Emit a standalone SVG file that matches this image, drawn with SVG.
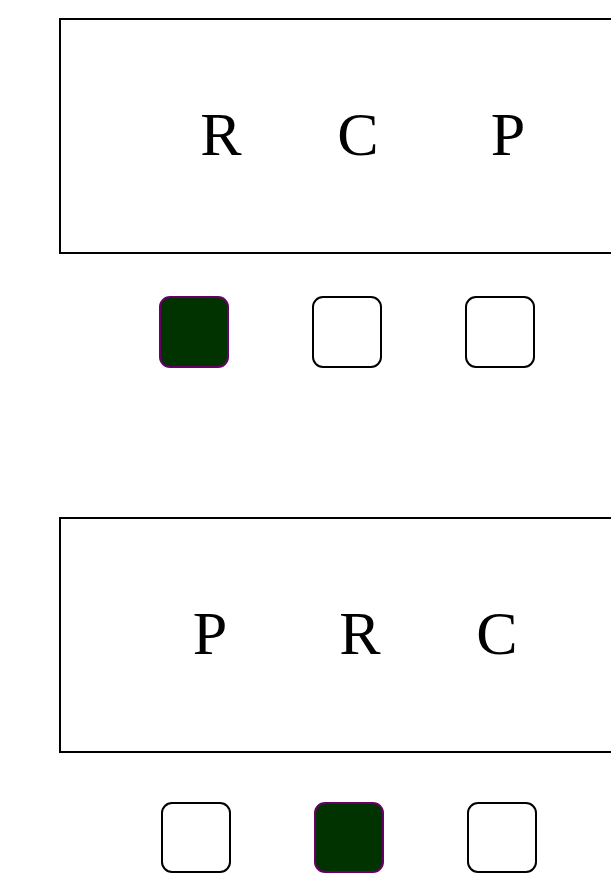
<svg xmlns="http://www.w3.org/2000/svg" width="611" height="873" viewBox="0 0 611 873">
<style>
.frame{fill:#fff;stroke:#000;stroke-width:2}
.lbl{font-family:"Liberation Serif","Times New Roman",serif;font-size:62px;fill:#000;text-anchor:middle}
.sq{fill:#fff;stroke:#000;stroke-width:2}
.on{fill:#003300;stroke:#660066;stroke-width:2}
</style>
<rect width="611" height="873" fill="#fff"/>
<g id="panel1">
<rect class="frame" x="60" y="19" width="580" height="234"/>
<text class="lbl" x="221" y="155">R</text>
<text class="lbl" x="358" y="155">C</text>
<text class="lbl" x="508" y="155">P</text>
</g>
<g id="sq1a"><rect class="on" x="160" y="297" width="68" height="70" rx="10"/></g>
<g id="sq1b"><rect class="sq" x="313" y="297" width="68" height="70" rx="10"/></g>
<g id="sq1c"><rect class="sq" x="466" y="297" width="68" height="70" rx="10"/></g>
<g id="panel2">
<rect class="frame" x="60" y="518" width="580" height="234"/>
<text class="lbl" x="210" y="654">P</text>
<text class="lbl" x="360" y="654">R</text>
<text class="lbl" x="497" y="654">C</text>
</g>
<g id="sq2a"><rect class="sq" x="162" y="803" width="68" height="69" rx="10"/></g>
<g id="sq2b"><rect class="on" x="315" y="803" width="68" height="69" rx="10"/></g>
<g id="sq2c"><rect class="sq" x="468" y="803" width="68" height="69" rx="10"/></g>
<g id="connectors"/>
</svg>
